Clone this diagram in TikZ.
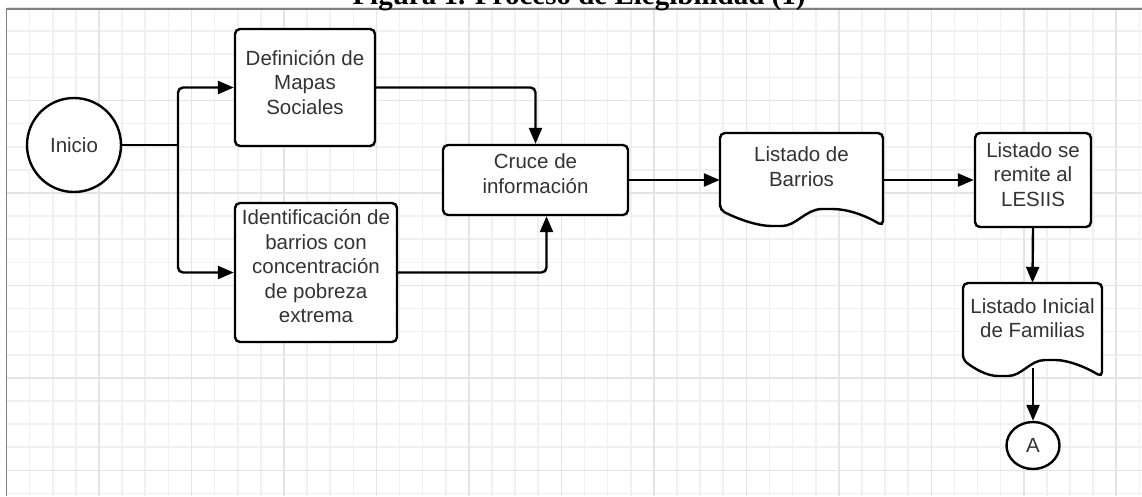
\documentclass[tikz,border=0pt]{standalone}
\usepackage{fontspec}
\setmainfont{Liberation Sans}
\newfontfamily\titlefont{Liberation Serif}
\usetikzlibrary{arrows.meta,shapes.geometric,calc}
\definecolor{txt}{HTML}{333333}
\definecolor{gridminor}{HTML}{F0F0F0}
\definecolor{gridmajor}{HTML}{E4E4E4}
\definecolor{framegray}{HTML}{808080}
\newcommand\bodyfont{\fontsize{20.5pt}{24.5pt}\selectfont}
\begin{document}
\begin{tikzpicture}[x=1pt,y=-1pt,
  procbox/.style={draw=black, line width=2.4pt, rounded corners=5pt, fill=white,
    align=center, text=txt, font=\bodyfont, inner sep=0pt},
  docnode/.style={draw=none, align=center, text=txt, font=\bodyfont, inner sep=0pt},
  docline/.style={draw=black, line width=2.4pt, fill=white, rounded corners=5pt},
  arr/.style={draw=black, line width=2.4pt, -{Triangle[length=16pt,width=13pt]}, rounded corners=5pt},
  plain/.style={draw=black, line width=2.4pt},
]
\useasboundingbox (0,0) rectangle (1142,496);
\fill[white] (0,0) rectangle (1142,496);
% grid
\foreach \i in {0,...,49} {\draw[gridminor, line width=1.6pt] ({6.5+23.12*\i},8) -- ({6.5+23.12*\i},496);}
\foreach \i in {0,...,21} {\draw[gridminor, line width=1.6pt] (6.5,{8+23.12*\i}) -- (1142,{8+23.12*\i});}
\foreach \i in {0,...,12} {\draw[gridmajor, line width=1.6pt] ({6.5+92.48*\i},8) -- ({6.5+92.48*\i},496);}
\foreach \i in {0,...,5} {\draw[gridmajor, line width=1.6pt] (6.5,{8+92.48*\i}) -- (1142,{8+92.48*\i});}
% frame
\draw[framegray, line width=1.8pt] (6.5,496) -- (6.5,8.7) -- (1142,8.7);
% title
\node[anchor=base, font=\titlefont\bfseries\fontsize{29pt}{32pt}\selectfont, inner sep=0pt] (title) at (579,4) {Figura 1. Proceso de Elegibilidad (1)};

% document outlines
\draw[docline] (720,210) -- (720,133) -- (883,133) -- (883,226)
  .. controls (868,217) and (850,209) .. (827,209)
  .. controls (806,209) and (796,226) .. (777,226)
  .. controls (757,226) and (738,219) .. (720,210) -- cycle;
\draw[docline] (963,360) -- (963,283) -- (1102,283) -- (1102,377)
  .. controls (1089,369) and (1070,360) .. (1050,360)
  .. controls (1030,360) and (1022,376) .. (1003,376)
  .. controls (987,376) and (975,369) .. (963,360) -- cycle;

% nodes
\node[circle, draw=black, line width=2.4pt, fill=white, minimum size=94pt, inner sep=0pt, text=txt, font=\bodyfont] (inicio) at (74,145) {Inicio};
\node[procbox, minimum width=140pt, minimum height=117pt, text depth=11pt] (def) at (305,87.5) {Definición de\\Mapas\\Sociales};
\node[procbox, minimum width=162pt, minimum height=139pt, text depth=13pt] (ide) at (316,272.5) {Identificación de\\barrios con\\concentración\\de pobreza\\extrema};
\node[procbox, minimum width=185pt, minimum height=70pt, text depth=13pt] (cruce) at (535.5,180) {Cruce de\\información};
\node[docnode, minimum width=163pt, minimum height=77pt, text depth=10pt] (bar) at (801.5,171.5) {Listado de\\Barrios};
\node[procbox, minimum width=116pt, minimum height=94pt, text depth=11pt] (les) at (1033,180) {Listado se\\remite al\\LESIIS};
\node[docnode, minimum width=139pt, minimum height=77pt, text depth=7pt] (fam) at (1032.5,321.5) {Listado Inicial\\de Familias};
\node[ellipse, draw=black, line width=2.4pt, fill=white, minimum width=53pt, minimum height=47pt, inner sep=0pt, text=txt, font=\bodyfont] (A) at (1033,445.5) {A};

% connectors
\coordinate (j) at (178,145);
\coordinate (famb) at (1033,368);
\draw[plain] (inicio.east) -- (j);
\draw[arr] (j) |- (def.west);
\draw[arr] (j) |- (ide.west);
\draw[arr] (def.east) -| (cruce.north);
\draw[arr] (ide.east) -| ([xshift=11pt]cruce.south);
\draw[arr] (cruce.east) -- (cruce.east -| bar.west);
\draw[arr] (les.west -| bar.east) -- (les.west);
\draw[arr] (les.south) -- (fam.north);
\draw[arr] (famb) -- (A.north);
\end{tikzpicture}
\end{document}
